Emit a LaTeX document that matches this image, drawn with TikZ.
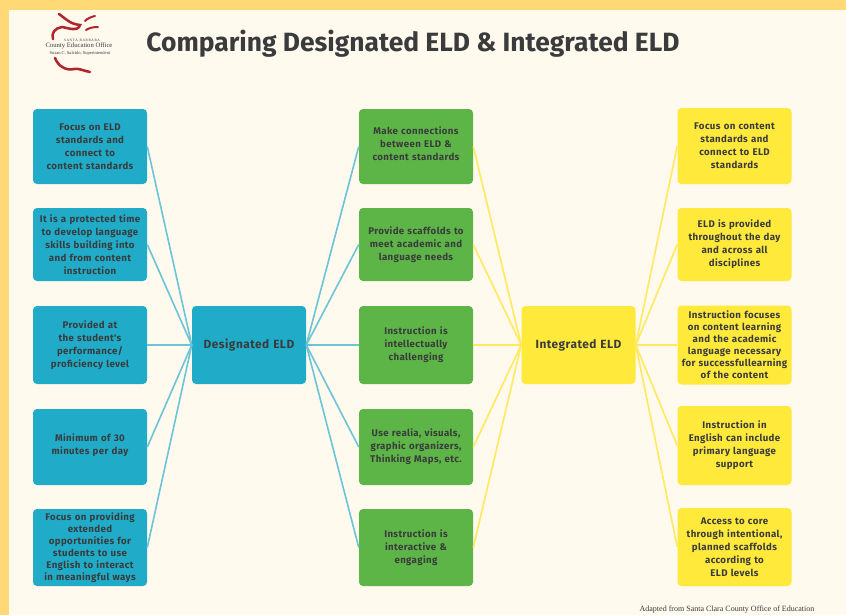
\documentclass[tikz,border=0pt]{standalone}
\usepackage{fontspec}
\setmainfont{Fira Sans}
\newfontfamily\boxfont[LetterSpace=4]{Fira Sans}
\newfontfamily\titlefont{Fira Sans}
\newfontfamily\serifont{Liberation Serif}
\definecolor{pagebg}{HTML}{FFF9EE}
\definecolor{frameY}{HTML}{FFD976}
\definecolor{tealbox}{HTML}{20ACC8}
\definecolor{greenbox}{HTML}{5DB547}
\definecolor{yellowbox}{HTML}{FFE93B}
\definecolor{inkdark}{HTML}{3A3B3C}
\definecolor{tealline}{HTML}{6CC4D8}
\definecolor{greenline}{HTML}{FFE95C}
\definecolor{logored}{HTML}{B0242C}
\tikzset{
  x=0.75pt,y=-0.75pt,
  card/.style={rounded corners=3pt,minimum width=85.5pt,inner sep=0pt,align=center,
    text=inkdark,font=\boxfont\bfseries\fontsize{7.25}{9.7}\selectfont,text width=85pt},
  dense/.style={font=\boxfont\bfseries\fontsize{7.25}{9}\selectfont},
  tealcard/.style={card,fill=tealbox},
  greencard/.style={card,fill=greenbox},
  yellcard/.style={card,fill=yellowbox},
  tealedge/.style={draw=tealline,line width=1.2pt},
  yelledge/.style={draw=greenline,line width=1.2pt},
  hub/.style={font=\boxfont\bfseries\fontsize{8.9}{10}\selectfont},
  tall/.style={minimum height=#1*0.75pt},
}
\begin{document}
\begin{tikzpicture}
\useasboundingbox (0,0) rectangle (846,615);
\fill[frameY] (0,0) rectangle (846,615);
\fill[pagebg] (9,10) rectangle (846,615);

% logo
\draw[logored,line width=1.9pt,line cap=round] (59,14) .. controls (66,19) and (70,24) .. (80,25) .. controls (78,32) and (68,28) .. (62,27) .. controls (55,28) and (51,33) .. (53,39);
\draw[logored,line width=1.5pt,line cap=round] (85,21) .. controls (88,18) and (91,17) .. (95,16);
\draw[logored,line width=1.5pt,line cap=round] (86,30) .. controls (89,28) and (93,27) .. (98,27);
\draw[logored,line width=1.9pt,line cap=round] (55,58) .. controls (58,66) and (66,71) .. (74,69) .. controls (79,68) and (84,71) .. (90,72);
\node (logoa) at (82,40.5) [font=\serifont\fontsize{2.6}{3}\selectfont,text=inkdark] {S\,A\,N\,T\,A\ \ B\,A\,R\,B\,A\,R\,A};
\node (logob) at (79,46) [font=\serifont\fontsize{5}{6}\selectfont,text=inkdark] {County Education Office};
\node (logoc) at (80,53) [font=\serifont\fontsize{3.4}{4}\selectfont,text=inkdark] {Susan C. Salcido, Superintendent};

\node (title) at (413,43.5) [font=\titlefont\bfseries\fontsize{19.8}{24}\selectfont,text=inkdark] {Comparing Designated ELD \& Integrated ELD};
\node (credit) at (727,610) [font=\serifont\fontsize{6}{7}\selectfont,text=inkdark] {Adapted from Santa Clara County Office of Education};

% teal column
\node[tealcard,tall=75] (a1) at (90,146.5) {Focus on ELD\\standards and\\connect to\\content standards};
\node[tealcard,tall=73] (a2) at (90,244.5) {It is a protected time\\to develop language\\skills building into\\and from content\\instruction};
\node[tealcard,tall=78] (a3) at (90,345) {Provided at\\the student's\\performance/\\proficiency level};
\node[tealcard,tall=76] (a4) at (90,447) {Minimum of 30\\minutes per day\par\vspace{3pt}};
\node[tealcard,dense,tall=77] (a5) at (90,547.5) {Focus on providing\\extended\\opportunities for\\students to use\\English to interact\\in meaningful ways};

\node[tealcard,hub,tall=78] (des) at (249,345) {Designated ELD};

% green column
\node[greencard,tall=75] (b1) at (416,146.5) {Make connections\\between ELD \&\\content standards\par\vspace{3.8pt}};
\node[greencard,tall=73] (b2) at (416,244.5) {Provide scaffolds to\\meet academic and\\language needs};
\node[greencard,tall=78] (b3) at (416,345) {Instruction is\\intellectually\\challenging};
\node[greencard,tall=76] (b4) at (416,447) {Use realia, visuals,\\graphic organizers,\\Thinking Maps, etc.};
\node[greencard,tall=77] (b5) at (416,547.5) {Instruction is\\interactive \&\\engaging};

\node[yellcard,hub,tall=78] (int) at (578.5,345) {Integrated ELD};

% yellow column
\node[yellcard,tall=76] (c1) at (734.5,146) {Focus on content\\standards and\\connect to ELD\\standards};
\node[yellcard,tall=73] (c2) at (734.5,244.5) {ELD is provided\\throughout the day\\and across all\\disciplines};
\node[yellcard,dense,tall=79] (c3) at (734.5,345) {Instruction focuses\\on content learning\\and the academic\\language necessary\\for successfullearning\\of the content};
\node[yellcard,tall=79] (c4) at (734.5,445.5) {Instruction in\\English can include\\primary language\\support};
\node[yellcard,tall=78] (c5) at (734.5,547) {Access to core\\through intentional,\\planned scaffolds\\according to\\ELD levels};

% connectors
\foreach \n in {a1,a2,a3,a4,a5} \draw[tealedge] (\n.east) -- (des.west);
\foreach \n in {b1,b2,b3,b4,b5} \draw[tealedge] (des.east) -- (\n.west);
\foreach \n in {b1,b2,b3,b4,b5} \draw[yelledge] (\n.east) -- (int.west);
\foreach \n in {c1,c2,c3,c4,c5} \draw[yelledge] (int.east) -- (\n.west);
\end{tikzpicture}
\end{document}
